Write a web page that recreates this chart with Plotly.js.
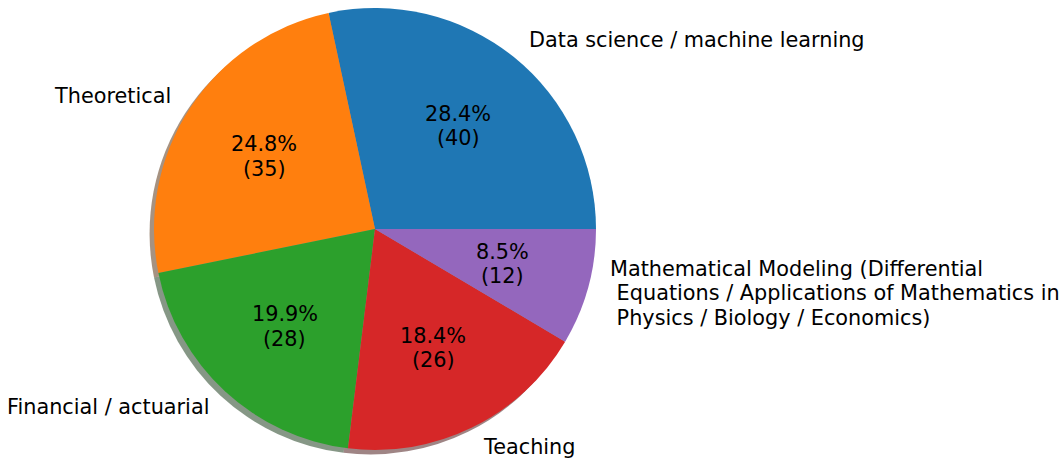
<!DOCTYPE html>
<html>
<head>
<meta charset="utf-8">
<script src="https://cdn.plot.ly/plotly-3.0.1.min.js"></script>
<style>html,body{margin:0;padding:0;background:#fff;}#chart{width:1063px;height:460px;}</style>
</head>
<body>
<div id="chart"></div>
<script>
var categories = [
  "Data science / machine learning",
  "Theoretical",
  "Financial / actuarial",
  "Teaching",
  "Mathematical Modeling (Differential<br>\u00a0Equations / Applications of Mathematics in<br>\u00a0Physics / Biology / Economics)"
];
var counts = [40, 35, 28, 26, 12];
var colors = ["#1f77b4", "#ff7f0e", "#2ca02c", "#d62728", "#9467bd"];

var W = 1063, H = 460;
var CX = 375, CY = 229, R = 221;      // pie center / radius in px
var SH = 0.02 * R;                    // shadow offset (matplotlib -0.02,-0.02)
var LINE = 24.5;                      // line spacing of multi-line labels, px

var total = counts.reduce(function (a, b) { return a + b; }, 0);
// first slice must start at 3 o'clock going counter-clockwise
var rot = 90 - 360 * counts[0] / total;

function domainFor(cx, cy) {
  return {
    x: [(cx - R) / W, (cx + R) / W],
    y: [(H - cy - R) / H, (H - cy + R) / H]
  };
}

function shadowColor(hex) {
  var r = parseInt(hex.substr(1, 2), 16), g = parseInt(hex.substr(3, 2), 16), b = parseInt(hex.substr(5, 2), 16);
  return "rgba(" + Math.round(0.3 * r) + "," + Math.round(0.3 * g) + "," + Math.round(0.3 * b) + ",0.5)";
}

var shadow = {
  type: "pie", values: counts, labels: categories, sort: false,
  direction: "counterclockwise", rotation: rot,
  marker: { colors: colors.map(shadowColor), line: { width: 0 } },
  textinfo: "none", hoverinfo: "skip", showlegend: false,
  domain: domainFor(CX - SH, CY + SH)
};
var pie = {
  type: "pie", values: counts, labels: categories, sort: false,
  direction: "counterclockwise", rotation: rot,
  marker: { colors: colors, line: { width: 0 } },
  textinfo: "none", hoverinfo: "skip", showlegend: false,
  domain: domainFor(CX, CY)
};

var annotations = [];
var font = { family: "DejaVu Sans, sans-serif", size: 20.8, color: "#000" };

function addText(text, px, py, xanchor) {
  var lines = text.split("<br>");
  var n = lines.length;
  lines.forEach(function (ln, i) {
    annotations.push({
      xref: "paper", yref: "paper",
      x: px / W, y: (H - py) / H,
      yshift: ((n - 1) / 2 - i) * LINE,
      text: ln, showarrow: false,
      xanchor: xanchor, yanchor: "middle",
      align: xanchor === "center" ? "center" : xanchor,
      font: font, borderpad: 0
    });
  });
}

var cum = 0;
counts.forEach(function (v, i) {
  var mid = (cum + v / 2) / total * 2 * Math.PI;
  cum += v;
  var c = Math.cos(mid), s = Math.sin(mid);
  addText(categories[i], CX + 1.1 * R * c, CY - 1.1 * R * s, c > 0 ? "left" : "right");
  addText((v / total * 100).toFixed(1) + "%<br>(" + v + ")", CX + 0.6 * R * c, CY - 0.6 * R * s, "center");
});

var layout = {
  width: W, height: H,
  margin: { l: 0, r: 0, t: 0, b: 0, pad: 0 },
  paper_bgcolor: "#fff", plot_bgcolor: "#fff",
  showlegend: false,
  annotations: annotations
};

Plotly.newPlot("chart", [shadow, pie], layout, { staticPlot: true });
</script>
</body>
</html>
